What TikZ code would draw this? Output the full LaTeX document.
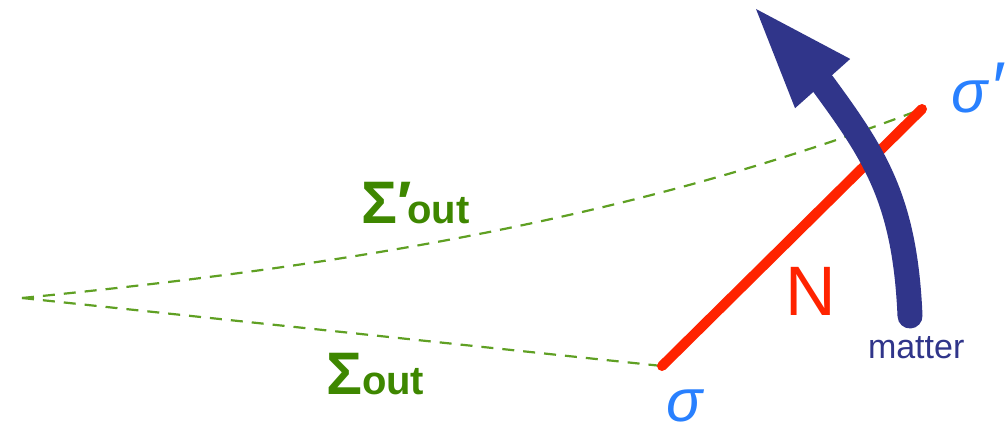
\documentclass[tikz,border=0pt]{standalone}
\usepackage{fontspec}
\setmainfont{Liberation Sans}
\usetikzlibrary{arrows.meta}
\definecolor{dgreen}{RGB}{95,160,35}
\definecolor{tgreen}{RGB}{62,135,0}
\definecolor{nred}{RGB}{255,35,0}
\definecolor{navyc}{RGB}{48,53,138}
\definecolor{sblue}{RGB}{40,128,255}
\newcommand{\bigsz}{\fontsize{60}{60}\selectfont}
\newcommand{\subsz}{\fontsize{40}{40}\selectfont}
\begin{document}
\begin{tikzpicture}[x=1pt,y=-1pt,
  dashline/.style={dgreen, line width=2.2pt, dash pattern=on 12pt off 9pt},
  lab/.style={inner sep=0pt, outer sep=0pt, anchor=base west},
  sigbig/.style={lab, tgreen, font=\bfseries\bigsz},
  pt/.style={lab, sblue, font=\itshape\fontsize{60}{60}\selectfont}]
\useasboundingbox (0,0) rectangle (1008,428);
\coordinate (apex) at (22,298);
\coordinate (s) at (662,366);
\coordinate (sp) at (922,109);
\draw[dashline] (apex) -- (s);
\draw[dashline] (apex) .. controls (322,268) and (622,224) .. (sp);
\draw[nred, line width=10pt, line cap=round] (s) -- (sp);
\coordinate (m0) at (910,316);
\coordinate (mb) at (823,84);
\coordinate (mt) at (756,9);
\draw[navyc, line width=25pt, line cap=round,
  -{Triangle[length=100pt,width=74pt,line width=0pt]}]
  (m0) .. controls (905,200) and (875,155) .. (mb) -- (mt);
% labels
\node[sigbig] (S1) at (326,394) {Σ{\subsz out}};
\node[sigbig] (S2) at (361,223) {Σ′\kern-4pt{\subsz out}};
\node[pt] (sig) at (666,421) {σ};
\node[pt] (sigp) at (951,112) {σ\kern2pt{\fontsize{72}{72}\selectfont ′}};
\node[lab, nred, font=\fontsize{70}{70}\selectfont] (N) at (785,315) {N};
\node[lab, navyc, font=\fontsize{34}{34}\selectfont] (mat) at (868,358) {matter};
\end{tikzpicture}
\end{document}
